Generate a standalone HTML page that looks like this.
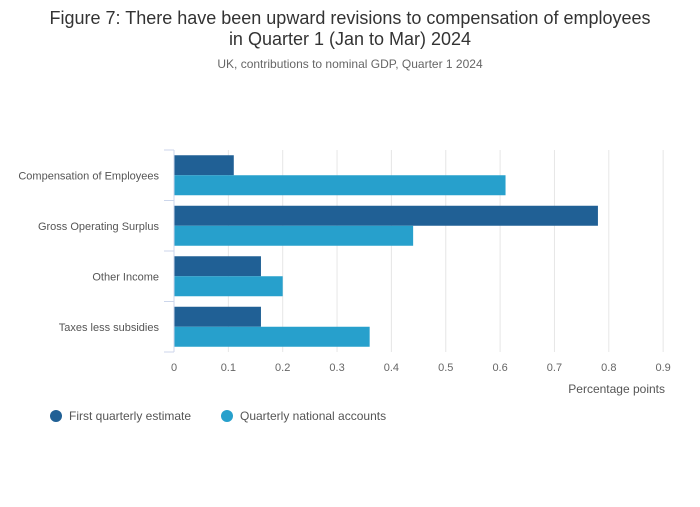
<!DOCTYPE html>
<html><head><meta charset="utf-8"><style>
body{margin:0;background:#fff;font-family:"Liberation Sans",sans-serif;}
svg text{font-family:"Liberation Sans",sans-serif;}
</style></head><body>
<svg id="chart" width="700" height="502">
<text x="350" y="24" text-anchor="middle" font-size="18" fill="#333">Figure 7: There have been upward revisions to compensation of employees</text>
<text x="350" y="45" text-anchor="middle" font-size="18" fill="#333">in Quarter 1 (Jan to Mar) 2024</text>
<text x="350" y="68" text-anchor="middle" font-size="12" fill="#666">UK, contributions to nominal GDP, Quarter 1 2024</text>
<g id="grid"></g><g id="bars"></g><g id="axes"></g>
<text x="665" y="393" text-anchor="end" font-size="12" fill="#555">Percentage points</text>
<g>
<g><circle cx="56" cy="416" r="6" fill="#206095"/><text x="69" y="420" font-size="12" fill="#555">First quarterly estimate</text></g>
<g><circle cx="227" cy="416" r="6" fill="#27a0cc"/><text x="240" y="420" font-size="12" fill="#555">Quarterly national accounts</text></g>
</g>
</svg>
<script>
const categories=["Compensation of Employees","Gross Operating Surplus","Other Income","Taxes less subsidies"];
const firstEstimate=[0.11,0.78,0.16,0.16];
const qna=[0.61,0.44,0.20,0.36];
const xTicks=[0,0.1,0.2,0.3,0.4,0.5,0.6,0.7,0.8,0.9];
const NS="http://www.w3.org/2000/svg";
const x0=174,xScale=543.5,plotTop=150,plotBottom=352;
const band=(plotBottom-plotTop)/categories.length;
const X=v=>x0+v*xScale;
function mk(t,a,p){const e=document.createElementNS(NS,t);for(const k in a)e.setAttribute(k,a[k]);p.appendChild(e);return e;}
const grid=document.getElementById('grid'),bars=document.getElementById('bars'),axes=document.getElementById('axes');
xTicks.forEach(t=>{
 if(t>0){const l=mk('line',{x1:X(t),x2:X(t),y1:plotTop,y2:plotBottom,stroke:'#e6e6e6','stroke-width':1},grid);
 
 }
 const tx=mk('text',{x:X(t),y:371,'text-anchor':'middle','font-size':11,fill:'#666'},axes);tx.textContent=String(t);
 
 
});
const al=mk('line',{x1:x0,x2:x0,y1:plotTop,y2:plotBottom,stroke:'#ccd6eb','stroke-width':1},axes);


for(let i=0;i<=categories.length;i++){const y=plotTop+i*band;mk('line',{x1:164,x2:x0,y1:y,y2:y,stroke:'#ccd6eb'},axes);}
categories.forEach((c,i)=>{
 const yb=plotTop+i*band,pad=(band-40)/2;
 const t=mk('text',{x:159,y:yb+band/2+4,'text-anchor':'end','font-size':11,fill:'#555'},axes);t.textContent=c;
 
 
 const r1=mk('rect',{x:x0,y:yb+pad,width:X(firstEstimate[i])-x0,height:20,fill:'#206095'},bars);
 
 
 const r2=mk('rect',{x:x0,y:yb+pad+20,width:X(qna[i])-x0,height:20,fill:'#27a0cc'},bars);
 
 
});
</script>
</body></html>
